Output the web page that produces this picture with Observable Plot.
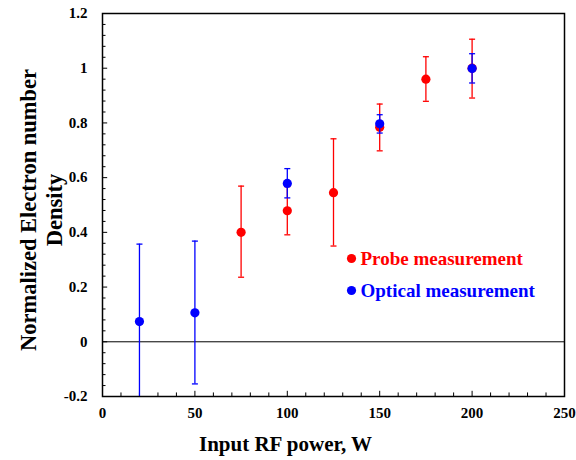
<!DOCTYPE html>
<html>
<head>
<meta charset="utf-8">
<script src="https://cdn.jsdelivr.net/npm/d3@7"></script>
<script src="https://cdn.jsdelivr.net/npm/@observablehq/plot@0.6"></script>
<style>
  body { margin: 0; background: #fff; }
  #chart { width: 576px; height: 460px; }
</style>
</head>
<body>
<div id="chart"></div>
<script>
// Probe measurement (red)
const probePower = [75, 100, 125, 150, 175, 200];
const probeValue = [0.400, 0.479, 0.545, 0.784, 0.960, 1.000];
const probeLow   = [0.236, 0.391, 0.350, 0.698, 0.879, 0.891];
const probeHigh  = [0.569, 0.567, 0.742, 0.869, 1.042, 1.106];

// Optical measurement (blue)
const opticalPower = [20, 50, 100, 150, 200];
const opticalValue = [0.074, 0.106, 0.579, 0.797, 0.999];
const opticalLow   = [-0.209, -0.154, 0.526, 0.763, 0.946];
const opticalHigh  = [0.357, 0.368, 0.633, 0.830, 1.053];

const seriesNames = ["Probe measurement", "Optical measurement"];
const seriesColors = ["#ff0000", "#0000ff"];

const xTickLabels = [0, 50, 100, 150, 200, 250];
const yTickLabels = [-0.2, 0, 0.2, 0.4, 0.6, 0.8, 1, 1.2];
const xMinorTicks = d3.range(0, 251, 10);
const yMinorTicks = d3.range(-0.2, 1.2001, 0.04).map(v => +v.toFixed(2));

const xTitle = "Input RF power, W";
const yTitle = "Normalized Electron number\nDensity";

const probe = probePower.map((x, i) => ({x, y: probeValue[i], lo: probeLow[i], hi: probeHigh[i]}));
const optical = opticalPower.map((x, i) => ({x, y: opticalValue[i], lo: opticalLow[i], hi: opticalHigh[i]}));

const capSymbol = {
  draw(context, size) {
    const r = Math.sqrt(size / Math.PI);
    context.moveTo(-r, 0);
    context.lineTo(r, 0);
  }
};

function errorMarks(data, color) {
  return [
    Plot.ruleX(data, {x: "x", y1: "lo", y2: "hi", stroke: color, strokeWidth: 1.3, clip: true}),
    Plot.dot(data, {x: "x", y: "hi", symbol: capSymbol, r: 3, stroke: color, strokeWidth: 1.3, fill: "none", clip: true}),
    Plot.dot(data, {x: "x", y: "lo", symbol: capSymbol, r: 3, stroke: color, strokeWidth: 1.3, fill: "none", clip: true}),
    Plot.dot(data, {x: "x", y: "y", r: 4.6, fill: color, stroke: "none"})
  ];
}

const isMajorX = v => xTickLabels.includes(v);
const isMajorY = v => yTickLabels.some(t => Math.abs(t - v) < 1e-9);

const chart = Plot.plot({
  width: 576,
  height: 460,
  marginLeft: 102,
  marginRight: 12,
  marginTop: 13,
  marginBottom: 64,
  style: {fontFamily: "'Liberation Serif', 'Times New Roman', serif", fontWeight: "bold", fontSize: "15px", color: "black", background: "white"},
  x: {domain: [0, 250], label: null},
  y: {domain: [-0.2, 1.2], label: null},
  marks: [
    // inward minor/major ticks
    Plot.ruleX(xMinorTicks, {x: d => d, y1: -0.2, y2: d => -0.2 + (isMajorX(d) ? 0.019 : 0.013), stroke: "black", strokeWidth: 1}),
    Plot.ruleY(yMinorTicks, {y: d => d, x1: 0, x2: d => (isMajorY(d) ? 2.8 : 1.9), stroke: "black", strokeWidth: 1}),
    Plot.axisX({ticks: xTickLabels, tickSize: 0, tickPadding: 11, tickFormat: d => String(d), fontSize: 15, fontWeight: "bold", label: null}),
    Plot.axisY({ticks: yTickLabels, tickSize: 0, tickPadding: 15, tickFormat: d => String(d), fontSize: 15, fontWeight: "bold", label: null}),
    Plot.ruleY([0], {stroke: "black", strokeWidth: 1}),
    ...errorMarks(probe, seriesColors[0]),
    ...errorMarks(optical, seriesColors[1]),
    Plot.frame({stroke: "black", strokeWidth: 1.5}),
    // legend
    Plot.dot([seriesNames[0]], {frameAnchor: "top-left", dx: 249, dy: 245, r: 4.6, fill: seriesColors[0]}),
    Plot.text([seriesNames[0]], {frameAnchor: "top-left", dx: 258, dy: 245, text: d => d, fill: seriesColors[0], fontSize: 19, fontWeight: "bold", textAnchor: "start", lineAnchor: "middle"}),
    Plot.dot([seriesNames[1]], {frameAnchor: "top-left", dx: 249, dy: 277, r: 4.6, fill: seriesColors[1]}),
    Plot.text([seriesNames[1]], {frameAnchor: "top-left", dx: 258, dy: 277, text: d => d, fill: seriesColors[1], fontSize: 19, fontWeight: "bold", textAnchor: "start", lineAnchor: "middle"}),
    // axis titles
    Plot.text([xTitle], {frameAnchor: "bottom", dx: -48, dy: 48, text: d => d, fontSize: 21, fontWeight: "bold", fill: "black", textAnchor: "middle", lineAnchor: "middle"}),
    Plot.text([yTitle], {frameAnchor: "left", dx: -62, dy: 5, rotate: -90, text: d => d, fontSize: 22.5, fontWeight: "bold", fill: "black", textAnchor: "middle", lineAnchor: "middle", lineHeight: 1.15})
  ]
});

document.getElementById("chart").appendChild(chart);
</script>
</body>
</html>
